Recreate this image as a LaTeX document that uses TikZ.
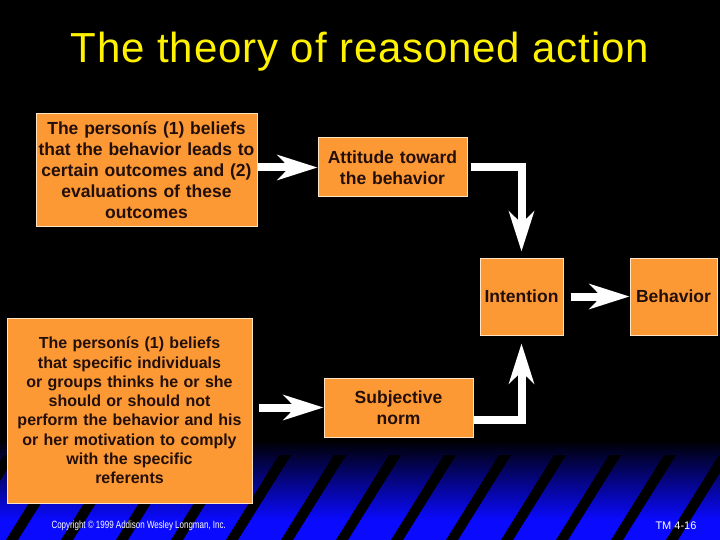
\documentclass[tikz,border=0pt]{standalone}
\usepackage{fontspec}
\usepackage{tikz}
\usetikzlibrary{arrows.meta, positioning}
\newfontfamily\arialfont{Liberation Sans}
\newfontfamily\titlefont[LetterSpace=2.0]{Liberation Sans}
\newfontfamily\narrowfont[FakeStretch=0.76]{Liberation Sans}
\definecolor{boxorange}{RGB}{253,153,53}
\definecolor{boxline}{RGB}{255,228,195}
\definecolor{boxtext}{RGB}{35,15,10}
\definecolor{slideblue}{RGB}{10,10,255}
\tikzstyle{box} = [rectangle, draw=boxline, fill=boxorange, line width=1pt, inner sep=0pt, align=center, text=boxtext, font=\arialfont\bfseries\fontsize{17.5}{21}\selectfont]
\tikzstyle{smallbox} = [box, font=\arialfont\bfseries\fontsize{16}{19.3}\selectfont]
\tikzstyle{bigarrow} = [draw=white, line width=8pt, line join=miter, -{Stealth[length=40pt, width=25pt, inset=12pt]}]

\begin{document}
\begin{tikzpicture}[x=1pt, y=-1pt]
				\useasboundingbox (0,0) rectangle (720,540);
				\fill [black] (0,0) rectangle (720,540);
				% blue stripes at the bottom
				\shade [top color=black, bottom color=slideblue] (0,440) rectangle (720,520);
				\fill [slideblue] (0,519) rectangle (720,540);
				\foreach \c in {-43,12,67,122,177,232,287,342,397,452,507,562,617,672,727}
					\fill [black] (\c-6,540) -- (\c+6,540) -- (\c+59,455) -- (\c+47,455) -- cycle;

				\node [anchor=base, text=yellow, font=\titlefont\fontsize{42}{48}\selectfont] (title) at (360,63) {The theory of reasoned action};

				\node [box, minimum width=221pt, minimum height=113pt, text width=219pt] (upper) at (146.5,170.5) {The personís (1) beliefs\\that the behavior leads to\\certain outcomes and (2)\\evaluations of these\\outcomes};
				\node [box, minimum width=149pt, minimum height=59pt, text width=147pt] (attitude) at (392.5,167.5) {Attitude toward\\the behavior};
				\node [box, minimum width=83pt, minimum height=77pt, text width=81pt] (intention) at (521.5,296.5) {Intention};
				\node [box, minimum width=87pt, minimum height=77pt, text width=85pt] (behavior) at (673.5,296.5) {Behavior};
				\node [smallbox, minimum width=245pt, minimum height=185pt, text width=243pt] (lower) at (129.5,410.5) {The personís (1) beliefs\\that specific individuals\\or groups thinks he or she\\should or should not\\perform the behavior and his\\or her motivation to comply\\with the specific\\referents};
				\node [box, minimum width=149pt, minimum height=59pt, text width=147pt] (norm) at (398.5,407.5) {Subjective\\norm};

				\path [bigarrow] (upper.east |- attitude.west) -- (attitude.west);
				\path [bigarrow, shorten <=6pt] (lower.east |- norm.west) -- (norm.west);
				\path [bigarrow, shorten <=3pt, shorten >=6pt] (attitude.east) -| (intention.north);
				\path [bigarrow, shorten >=8pt] ([yshift=-12pt]norm.east) -| (intention.south);
				\path [bigarrow, shorten <=7pt] (intention.east) -- (behavior.west);

				\node [anchor=west, text=white, font=\narrowfont\fontsize{10.5}{12}\selectfont] (copy) at (48,526) {Copyright © 1999 Addison Wesley Longman, Inc.};
				\node [anchor=east, text=white, font=\arialfont\fontsize{11}{13}\selectfont] (tm) at (700,526) {TM 4-16};
			\end{tikzpicture}
\end{document}
